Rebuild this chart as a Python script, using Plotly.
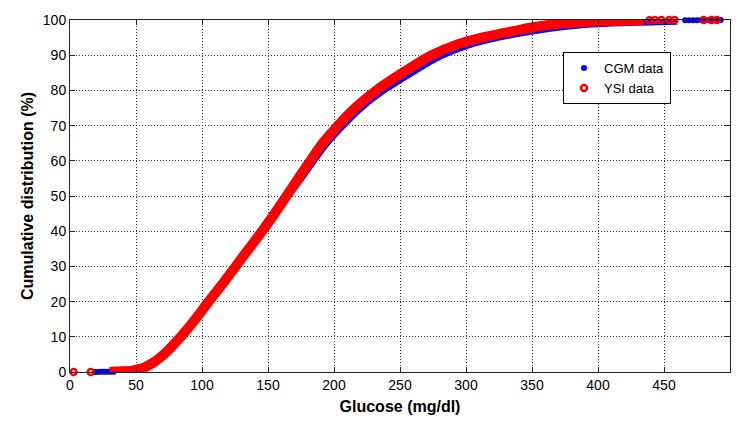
import plotly.graph_objects as go

# ---- data (glucose mg/dl at cumulative %) ----
ysi_glucose = [30, 40, 47, 52, 57, 62, 68, 74, 79, 84, 95, 105, 115.5, 125.5, 135.5, 145.5, 155,
               164, 173, 182, 191.5, 203, 216, 232, 252, 274, 293, 312, 338, 352, 372, 395,
               420, 435]
ysi_cdf = [0.1, 0.2, 0.4, 0.8, 1.4, 2.4, 4.0, 6.0, 8.0, 10, 15, 20, 25, 30, 35, 40, 45,
           50, 55, 60, 65, 70, 75, 80, 85, 90, 93, 95, 97, 98, 99, 99.5,
           99.8, 99.95]

cgm_glucose = [33, 40, 47, 52, 57, 62, 68, 74, 79, 84, 95, 105, 115.5, 125.5, 135.5, 145.5, 155,
               164, 174, 183.5, 193.5, 205.5, 219, 236, 257, 280, 300, 320, 348, 365, 390, 415,
               445, 460]
cgm_cdf = [0.1, 0.2, 0.4, 0.8, 1.4, 2.4, 4.0, 6.0, 8.0, 10, 15, 20, 25, 30, 35, 40, 45,
           50, 55, 60, 65, 70, 75, 80, 85, 90, 93, 95, 97, 98, 99, 99.5,
           99.8, 99.9]

# sparse tail samples
cgm_tail_glucose = [19, 21, 23, 25, 27, 29, 31, 33, 466, 469, 472, 475, 478, 481, 484, 487, 490, 493]
cgm_tail_cdf = [0.02, 0.03, 0.04, 0.05, 0.06, 0.07, 0.08, 0.09, 99.93, 99.94, 99.95, 99.96,
                99.97, 99.98, 99.98, 99.99, 99.99, 100]
ysi_tail_glucose = [2.7, 15.7, 439, 443, 448, 454, 458, 480, 486, 490]
ysi_tail_cdf = [0.01, 0.02, 99.96, 99.97, 99.97, 99.98, 99.98, 99.99, 99.99, 100]

x_ticks = [0, 50, 100, 150, 200, 250, 300, 350, 400, 450, 500]
y_ticks = [0, 10, 20, 30, 40, 50, 60, 70, 80, 90, 100]

BLUE = "#0000ff"
RED = "#ff0000"
FONT = "Liberation Sans, Arial, Helvetica, sans-serif"

fig = go.Figure()

fig.add_trace(go.Scatter(x=cgm_glucose, y=cgm_cdf, mode="lines",
                         line=dict(color=BLUE, width=9, shape="spline", smoothing=0.8),
                         showlegend=False, cliponaxis=False, hoverinfo="skip"))
fig.add_trace(go.Scatter(x=cgm_tail_glucose, y=cgm_tail_cdf, mode="markers", name="CGM data",
                         marker=dict(color=BLUE, size=6, symbol="circle"), cliponaxis=False))
fig.add_trace(go.Scatter(x=ysi_glucose, y=ysi_cdf, mode="lines",
                         line=dict(color=RED, width=10, shape="spline", smoothing=0.8),
                         showlegend=False, cliponaxis=False, hoverinfo="skip"))
fig.add_trace(go.Scatter(x=ysi_tail_glucose, y=ysi_tail_cdf, mode="markers", name="YSI data",
                         marker=dict(color=RED, size=6, symbol="circle-open", line=dict(color=RED, width=2.5)),
                         cliponaxis=False))

axis_common = dict(
    showline=True, linecolor="#222", linewidth=1, mirror="ticks",
    ticks="inside", ticklen=5, tickcolor="#222",
    showgrid=True, gridcolor="#333", gridwidth=1, griddash="1px,2px",
    zeroline=False, tickfont=dict(family=FONT, size=14, color="black"),
    automargin=False,
)

fig.update_xaxes(range=[0, 500], tickvals=x_ticks, ticktext=[str(v) for v in x_ticks],
                 title=dict(text="<b>Glucose (mg/dl)</b>", font=dict(family=FONT, size=16, color="black"), standoff=10),
                 **axis_common)
fig.update_yaxes(range=[0, 100], tickvals=y_ticks, ticktext=[str(v) for v in y_ticks],
                 title=dict(text="<b>Cumulative distribution (%)</b>", font=dict(family=FONT, size=16, color="black"), standoff=5),
                 **axis_common)

# the page body has an 8 px margin; size/margins are chosen so the plot area
# lands at x 70..730, y 20..372 in the 748x423 window
fig.update_layout(
    width=732, height=407,
    margin=dict(l=62, r=10, t=12, b=43),
    paper_bgcolor="white", plot_bgcolor="white",
    font=dict(family=FONT, size=14, color="black"),
    legend=dict(x=0.747, y=0.909, xanchor="left", yanchor="top",
                bgcolor="white", bordercolor="black", borderwidth=1,
                font=dict(family=FONT, size=13, color="black"),
                itemwidth=30, tracegroupgap=0),
)

fig.write_html("out.html")
